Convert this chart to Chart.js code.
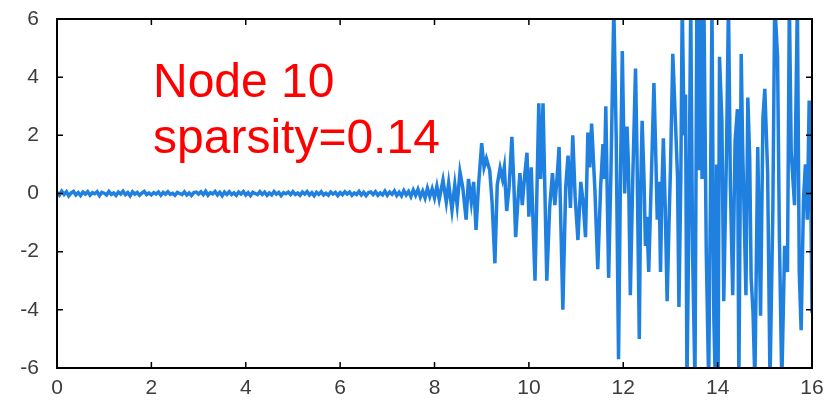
<!DOCTYPE html>
<html>
<head>
<meta charset="utf-8">
<script src="https://cdn.jsdelivr.net/npm/chart.js@4.4.1/dist/chart.umd.min.js"></script>
<style>
  html, body { margin: 0; padding: 0; background: #fff; }
  #wrap { width: 831px; height: 405px; }
</style>
</head>
<body>
<div id="wrap"><canvas id="nodeChart" width="831" height="405"></canvas></div>
<script>
// Node 10 response
const times = [
  0.0, 0.05, 0.1, 0.15, 0.2, 0.25, 0.3, 0.35, 0.4, 0.45,
  0.5, 0.55, 0.6, 0.65, 0.7, 0.75, 0.8, 0.85, 0.9, 0.95,
  1.0, 1.05, 1.1, 1.15, 1.2, 1.25, 1.3, 1.35, 1.4, 1.45,
  1.5, 1.55, 1.6, 1.65, 1.7, 1.75, 1.8, 1.85, 1.9, 1.95,
  2.0, 2.05, 2.1, 2.15, 2.2, 2.25, 2.3, 2.35, 2.4, 2.45,
  2.5, 2.55, 2.6, 2.65, 2.7, 2.75, 2.8, 2.85, 2.9, 2.95,
  3.0, 3.05, 3.1, 3.15, 3.2, 3.25, 3.3, 3.35, 3.4, 3.45,
  3.5, 3.55, 3.6, 3.65, 3.7, 3.75, 3.8, 3.85, 3.9, 3.95,
  4.0, 4.05, 4.1, 4.15, 4.2, 4.25, 4.3, 4.35, 4.4, 4.45,
  4.5, 4.55, 4.6, 4.65, 4.7, 4.75, 4.8, 4.85, 4.9, 4.95,
  5.0, 5.05, 5.1, 5.15, 5.2, 5.25, 5.3, 5.35, 5.4, 5.45,
  5.5, 5.55, 5.6, 5.65, 5.7, 5.75, 5.8, 5.85, 5.9, 5.95,
  6.0, 6.05, 6.1, 6.15, 6.2, 6.25, 6.3, 6.35, 6.4, 6.45,
  6.5, 6.55, 6.6, 6.65, 6.7, 6.75, 6.8, 6.85, 6.9, 6.95,
  7.0, 7.05, 7.1, 7.15, 7.2, 7.25, 7.3, 7.35, 7.4, 7.45,
  7.5, 7.55, 7.6, 7.65, 7.7, 7.75, 7.8, 7.85, 7.9, 7.95,
  8.0, 8.05, 8.1, 8.18, 8.25, 8.3, 8.37, 8.43, 8.48, 8.54,
  8.6, 8.67, 8.72, 8.78, 8.83, 8.88, 8.93, 9.0, 9.05, 9.1,
  9.17, 9.22, 9.28, 9.33, 9.39, 9.44, 9.48, 9.53, 9.58, 9.64,
  9.68, 9.72, 9.77, 9.81, 9.86, 9.91, 9.96, 10.0, 10.05, 10.13,
  10.21, 10.25, 10.3, 10.38, 10.44, 10.5, 10.55, 10.6, 10.64, 10.72,
  10.78, 10.83, 10.88, 10.93, 10.98, 11.04, 11.1, 11.15, 11.2, 11.25,
  11.29, 11.33, 11.4, 11.46, 11.52, 11.57, 11.6, 11.63, 11.69, 11.74,
  11.8, 11.85, 11.9, 11.94, 11.98, 12.03, 12.08, 12.11, 12.15, 12.2,
  12.26, 12.29, 12.34, 12.37, 12.4, 12.44, 12.47, 12.5, 12.54, 12.6,
  12.65, 12.69, 12.72, 12.76, 12.79, 12.82, 12.85, 12.89, 12.93, 12.97,
  13.0, 13.05, 13.11, 13.15, 13.18, 13.22, 13.25, 13.29, 13.32, 13.35,
  13.39, 13.43, 13.47, 13.52, 13.56, 13.6, 13.64, 13.67, 13.71, 13.76,
  13.81, 13.85, 13.88, 13.92, 13.95, 13.98, 14.01, 14.04, 14.09, 14.13,
  14.19, 14.23, 14.27, 14.32, 14.37, 14.42, 14.45, 14.5, 14.53, 14.6,
  14.64, 14.68, 14.71, 14.75, 14.79, 14.85, 14.91, 14.96, 15.0, 15.06,
  15.11, 15.17, 15.21, 15.27, 15.31, 15.36, 15.42, 15.48, 15.52, 15.56,
  15.63, 15.69, 15.73, 15.77, 15.82, 15.86, 15.9, 15.94, 15.97, 16.0
];
const values = [
  0.04, -0.06, 0.08, -0.03, 0.06, -0.08, 0.02, 0.07, -0.05, 0.03,
  -0.07, 0.05, -0.02, 0.06, -0.06, 0.03, -0.01, 0.06, -0.07, 0.04,
  0.01, -0.05, 0.07, -0.03, 0.02, -0.07, 0.05, -0.02, 0.08, -0.04,
  0.03, -0.08, 0.06, -0.02, 0.04, -0.06, 0.01, 0.07, -0.04, 0.02,
  -0.05, 0.03, -0.02, 0.05, -0.06, 0.04, -0.02, 0.06, -0.03, 0.01,
  -0.06, 0.04, 0.0, -0.04, 0.06, -0.05, 0.02, -0.07, 0.03, 0.05,
  -0.02, 0.06, -0.04, 0.08, -0.06, 0.03, -0.01, 0.07, -0.05, 0.04,
  -0.08, 0.05, -0.03, 0.06, -0.04, 0.02, -0.06, 0.05, -0.02, 0.07,
  -0.05, 0.03, -0.07, 0.04, 0.0, -0.04, 0.06, -0.03, 0.05, -0.06,
  0.02, -0.05, 0.07, -0.02, 0.04, -0.07, 0.03, -0.01, 0.05, -0.04,
  0.06, -0.03, 0.02, -0.06, 0.05, -0.02, 0.07, -0.05, 0.03, -0.08,
  0.04, -0.03, 0.06, -0.05, 0.01, -0.06, 0.05, -0.02, 0.04, -0.07,
  0.03, -0.04, 0.06, -0.02, 0.05, -0.06, 0.02, -0.03, 0.07, -0.05,
  0.04, -0.07, 0.03, 0.05, -0.04, 0.06, -0.06, 0.02, -0.05, 0.08,
  -0.06, 0.05, -0.03, 0.09, -0.07, 0.04, -0.08, 0.1, -0.05, 0.07,
  -0.1, 0.12, -0.06, 0.14, -0.12, 0.08, -0.15, 0.18, -0.1, 0.16,
  -0.15, 0.25, -0.2, 0.46, -0.3, 0.35, -0.57, 0.3, -0.4, 0.74,
  0.2, -0.9, 0.5, -0.3, 0.4, -1.25, 0.2, 1.73, 0.9, 1.2,
  0.8, -0.3, -2.4, 0.3, 0.87, 0.5, 0.9, -0.6, 0.2, 1.95,
  0.4, -1.5, -0.2, 0.7, -0.4, 0.6, 1.4, -0.8, 0.9, -3.0,
  3.1, 0.5, 3.1, -3.0, -0.5, 0.7, -0.4, 0.6, 1.6, -4.0,
  0.2, 1.3, -0.5, 2.0, -0.1, -1.6, 0.4, -0.3, -1.5, 2.1,
  0.9, 2.4, 0.1, -2.6, 0.2, 1.7, 0.5, 3.0, -2.9, 0.8,
  6.4, 2.0, -5.7, 0.5, 4.9, 0.0, 2.3, 1.0, -3.5, 0.4,
  4.3, 1.5, -5.0, 0.2, 2.5, 0.5, -1.8, -0.8, -2.7, 0.8,
  3.8, 1.3, -0.9, 0.4, -2.7, 0.2, 1.9, -0.5, -3.7, -1.0,
  0.8, 4.8, 2.3, 0.6, -3.9, 0.5, 6.6, 2.0, 3.4, -6.6,
  -1.0, 6.5, -2.1, -6.5, 6.5, 0.8, 6.6, 0.5, 6.4, -2.1,
  -6.5, 0.3, 6.5, -4.3, -6.5, 1.0, -6.4, 4.7, 2.5, -3.7,
  1.6, 6.6, 0.3, -3.5, 1.8, 2.9, -6.5, 4.8, 1.6, -3.5,
  3.3, 1.2, -2.9, -4.1, -6.5, 1.6, -4.2, 2.6, 3.6, 0.7,
  -6.5, -0.6, 6.6, 4.7, -1.6, -6.5, -1.8, -2.7, 6.6, 1.4,
  -0.4, 6.6, -2.7, -4.7, -0.2, 1.0, -0.9, 3.2, 0.7, -4.1
];
const xRange = [0, 16];
const yRange = [-6, 6];
const noteLines = ['Node 10', 'sparsity=0.14'];

const lineColor = '#1f80e0';
const labelColor = '#3c3c3c';
const labelFont = { family: '"Liberation Sans", Arial, sans-serif', size: 21 };

// frame with inward ticks, plus the red note
const framePlugin = {
  id: 'frame',
  afterDraw(chart) {
    const { ctx, chartArea: a, scales } = chart;
    ctx.save();
    ctx.strokeStyle = '#000';
    ctx.lineWidth = 2;
    ctx.strokeRect(a.left, a.top, a.right - a.left, a.bottom - a.top);
    ctx.lineWidth = 1.5;
    const len = 6;
    scales.x.ticks.forEach(t => {
      const px = scales.x.getPixelForValue(t.value);
      ctx.beginPath();
      ctx.moveTo(px, a.bottom); ctx.lineTo(px, a.bottom - len);
      ctx.moveTo(px, a.top); ctx.lineTo(px, a.top + len);
      ctx.stroke();
    });
    scales.y.ticks.forEach(t => {
      const py = scales.y.getPixelForValue(t.value);
      ctx.beginPath();
      ctx.moveTo(a.left, py); ctx.lineTo(a.left + len, py);
      ctx.moveTo(a.right, py); ctx.lineTo(a.right - len, py);
      ctx.stroke();
    });
    ctx.fillStyle = '#ff0000';
    ctx.font = '48px "Liberation Sans", Arial, sans-serif';
    ctx.textBaseline = 'alphabetic';
    ctx.fillText(noteLines[0], 153, 97);
    ctx.fillText(noteLines[1], 153, 153);
    ctx.restore();
  }
};

new Chart(document.getElementById('nodeChart'), {
  type: 'line',
  data: {
    datasets: [{
      data: times.map((t, i) => ({ x: t, y: values[i] })),
      borderColor: lineColor,
      borderWidth: 3.5,
      pointRadius: 0,
      tension: 0,
      clip: 0
    }]
  },
  options: {
    responsive: false,
    animation: false,
    events: [],
    layout: { padding: { top: 19, right: 19, left: 0, bottom: 0 } },
    plugins: { legend: { display: false }, tooltip: { enabled: false } },
    scales: {
      x: {
        type: 'linear',
        min: xRange[0],
        max: xRange[1],
        ticks: { stepSize: 2, color: labelColor, font: labelFont, padding: 8, maxRotation: 0 },
        grid: { display: false, drawTicks: false },
        border: { display: false },
        afterFit: s => { s.height = 37; s.paddingLeft = 0; s.paddingRight = 0; }
      },
      y: {
        min: yRange[0],
        max: yRange[1],
        ticks: { stepSize: 2, color: labelColor, font: labelFont, padding: 18 },
        grid: { display: false, drawTicks: false },
        border: { display: false },
        afterFit: s => { s.width = 57; s.paddingTop = 0; s.paddingBottom = 0; }
      }
    }
  },
  plugins: [framePlugin]
});
</script>
</body>
</html>
